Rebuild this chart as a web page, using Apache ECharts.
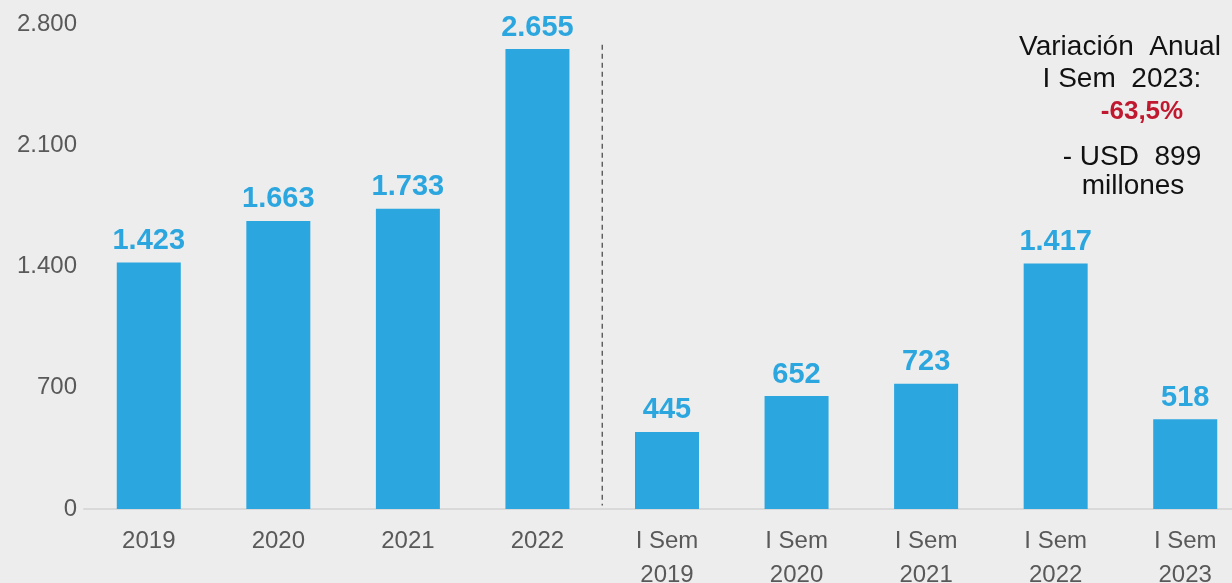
<!DOCTYPE html>
<html><head><meta charset="utf-8">
<script src="https://cdn.jsdelivr.net/npm/echarts@6/dist/echarts.min.js"></script>
<style>html,body{margin:0;padding:0;background:#EDEDED;}#c{width:1232px;height:583px;}</style>
</head><body><div id="c"></div>
<script>
const categories = ['2019','2020','2021','2022','I Sem\n2019','I Sem\n2020','I Sem\n2021','I Sem\n2022','I Sem\n2023'];
const values = [1423,1663,1733,2655,445,652,723,1417,518];
const yTicks = [0,700,1400,2100,2800];

function fmt(v){return String(v).replace(/\B(?=(\d{3})+(?!\d))/g,'.');}

const chart = echarts.init(document.getElementById('c'));
const F = '"Liberation Sans", Arial, sans-serif';
chart.setOption({
  backgroundColor:'#EDEDED',
  animation:false,
  grid:{left:84,right:-18,top:24,bottom:74,containLabel:false,outerBoundsMode:'none'},
  xAxis:{type:'category',data:categories,
    axisLine:{lineStyle:{color:'#D9D9D9',width:2}},axisTick:{show:false},
    axisLabel:{color:'#595959',fontSize:24,fontFamily:F,margin:15,lineHeight:34,interval:0}},
  yAxis:{type:'value',min:yTicks[0],max:yTicks[yTicks.length-1],interval:700,
    splitLine:{show:false},axisLine:{show:false},axisTick:{show:false},
    axisLabel:{color:'#595959',fontSize:24,fontFamily:F,margin:7,formatter:v=>fmt(v)}},
  series:[{type:'bar',data:values,barWidth:'49.4%',itemStyle:{color:'#2BA6DF'},
    label:{show:true,position:'top',distance:7,color:'#2BA6DF',fontWeight:'bold',fontSize:29,fontFamily:F,formatter:p=>fmt(p.value)}}]
});
const x1 = chart.convertToPixel({xAxisIndex:0},3), x2 = chart.convertToPixel({xAxisIndex:0},4);
const xm = (x1+x2)/2;
const yTop = chart.convertToPixel({yAxisIndex:0},2680), yBot = chart.convertToPixel({yAxisIndex:0},20);
function T(x,y,text,font,fill){return {type:'text',x:x,y:y,style:{text:text,font:font,fill:fill,align:'center',verticalAlign:'middle',textAlign:'center',textVerticalAlign:'middle'}};}
chart.setOption({graphic:[
  {type:'line',shape:{x1:xm,y1:yTop,x2:xm,y2:yBot},style:{stroke:'#404040',lineWidth:1.2,lineDash:[5,4]}},
  T(1120,47,'Variación  Anual','28px '+F,'#111'),
  T(1122,79,'I Sem  2023:','28px '+F,'#111'),
  T(1142,112,'-63,5%','bold 26px '+F,'#C0182F'),
  T(1132,157,'- USD  899','28px '+F,'#111'),
  T(1133,186,'millones','28px '+F,'#111')
]});
</script></body></html>
